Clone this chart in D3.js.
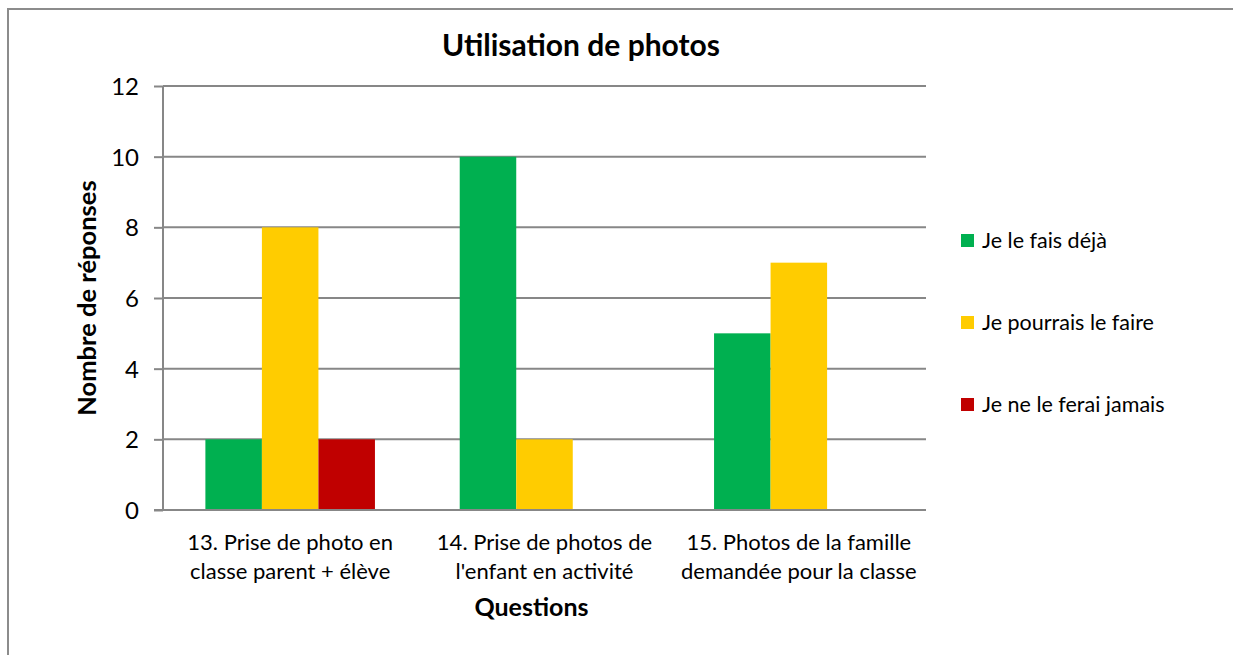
<!DOCTYPE html>
<html>
<head>
<meta charset="utf-8">
<script src="https://cdn.jsdelivr.net/npm/d3@7"></script>
<style>
  html, body { margin: 0; padding: 0; background: #fff; overflow: hidden; }
  svg { display: block; font-family: Lato, "Open Sans", sans-serif; }
</style>
</head>
<body>
<svg id="chart" width="1233" height="655"></svg>
<script>
const title = "Utilisation de photos";
const yTitle = "Nombre de réponses";
const xTitle = "Questions";
const categories = [
  ["13. Prise de photo en", "classe parent + élève"],
  ["14. Prise de photos de", "l'enfant en activité"],
  ["15. Photos de la famille", "demandée pour la classe"]
];
const seriesNames = ["Je le fais déjà", "Je pourrais le faire", "Je ne le ferai jamais"];
const seriesColors = ["#00B050", "#FFCC00", "#C00000"];
const valuesDeja = [2, 10, 5];
const valuesPourrais = [8, 2, 7];
const valuesJamais = [2, 0, 0];
const yTicks = [0, 2, 4, 6, 8, 10, 12];

(function () {
const seriesValues = [valuesDeja, valuesPourrais, valuesJamais];
const svg = d3.select("#chart");

// outer frame (right and bottom edges fall outside the picture)
svg.append("line").attr("x1", 8).attr("x2", 1233).attr("y1", 9).attr("y2", 9)
  .attr("stroke", "#8c8c8c").attr("stroke-width", 2);
svg.append("line").attr("x1", 8).attr("x2", 8).attr("y1", 8).attr("y2", 655)
  .attr("stroke", "#8c8c8c").attr("stroke-width", 2);

const pL = 163, pR = 926, pT = 86, pB = 510;
const y = d3.scaleLinear().domain([0, 12]).range([pB, pT]);
const x = d3.scaleBand().domain(d3.range(categories.length)).range([pL, pR])
  .paddingInner(1/3).paddingOuter(1/6);
const xs = d3.scaleBand().domain(d3.range(seriesNames.length)).range([0, x.bandwidth()]);

const gridColor = "#878787";
svg.append("g").selectAll("line").data(yTicks.filter(d => d > 0)).join("line")
  .attr("x1", pL).attr("x2", pR)
  .attr("y1", d => y(d)).attr("y2", d => y(d))
  .attr("stroke", gridColor).attr("stroke-width", 2);

const groups = svg.append("g").selectAll("g").data(categories).join("g")
  .attr("transform", (d, i) => `translate(${x(i)},0)`);
groups.selectAll("rect").data((d, i) => seriesValues.map((s, k) => ({k, v: s[i]})))
  .join("rect")
  .attr("x", d => xs(d.k)).attr("width", xs.bandwidth())
  .attr("y", d => y(d.v)).attr("height", d => pB - y(d.v))
  .attr("fill", d => seriesColors[d.k]);

const yAxis = d3.axisLeft(y).tickValues(yTicks).tickSize(9).tickPadding(15);
const gy = svg.append("g").attr("transform", `translate(${pL},0)`).call(yAxis);
gy.select(".domain").attr("stroke", gridColor).attr("stroke-width", 2).attr("d", `M0,${pT}V${pB}`);
gy.selectAll(".tick line").attr("stroke", gridColor).attr("stroke-width", 2);
gy.selectAll(".tick text").attr("font-size", 24).attr("fill", "#000")
  .attr("font-family", "Lato, sans-serif").attr("dy", "0.36em");

svg.append("line").attr("x1", pL - 9).attr("x2", pR)
  .attr("y1", y(0)).attr("y2", y(0)).attr("stroke", gridColor).attr("stroke-width", 2);

const cl = svg.append("g").selectAll("text").data(categories).join("text")
  .attr("text-anchor", "middle").attr("font-size", 22).attr("fill", "#000");
cl.each(function(d, i) {
  const t = d3.select(this);
  d.forEach((line, j) => {
    t.append("tspan").attr("x", x(i) + x.bandwidth() / 2).attr("y", 550 + j * 29).text(line);
  });
});

svg.append("text").attr("x", (pL + pR) / 2 - 13).attr("y", 616).attr("text-anchor", "middle")
  .attr("font-size", 25).attr("font-weight", "bold").text(xTitle);
svg.append("text").attr("transform", `translate(96,${(pT + pB) / 2}) rotate(-90)`)
  .attr("text-anchor", "middle").attr("font-size", 25.5).attr("font-weight", "bold").text(yTitle);

svg.append("text").attr("x", 581).attr("y", 56).attr("text-anchor", "middle")
  .attr("font-size", 30).attr("font-weight", "bold").text(title);

const legendY = [240, 322, 404];
const lg = svg.append("g").selectAll("g").data(seriesNames).join("g")
  .attr("transform", (d, i) => `translate(961,${legendY[i]})`);
lg.append("rect").attr("x", 0).attr("y", -6).attr("width", 13).attr("height", 13)
  .attr("fill", (d, i) => seriesColors[i]);
lg.append("text").attr("x", 21).attr("y", 0).attr("dy", "0.35em")
  .attr("font-size", 21.5).attr("fill", "#000").text(d => d);
})();
</script>
</body>
</html>
